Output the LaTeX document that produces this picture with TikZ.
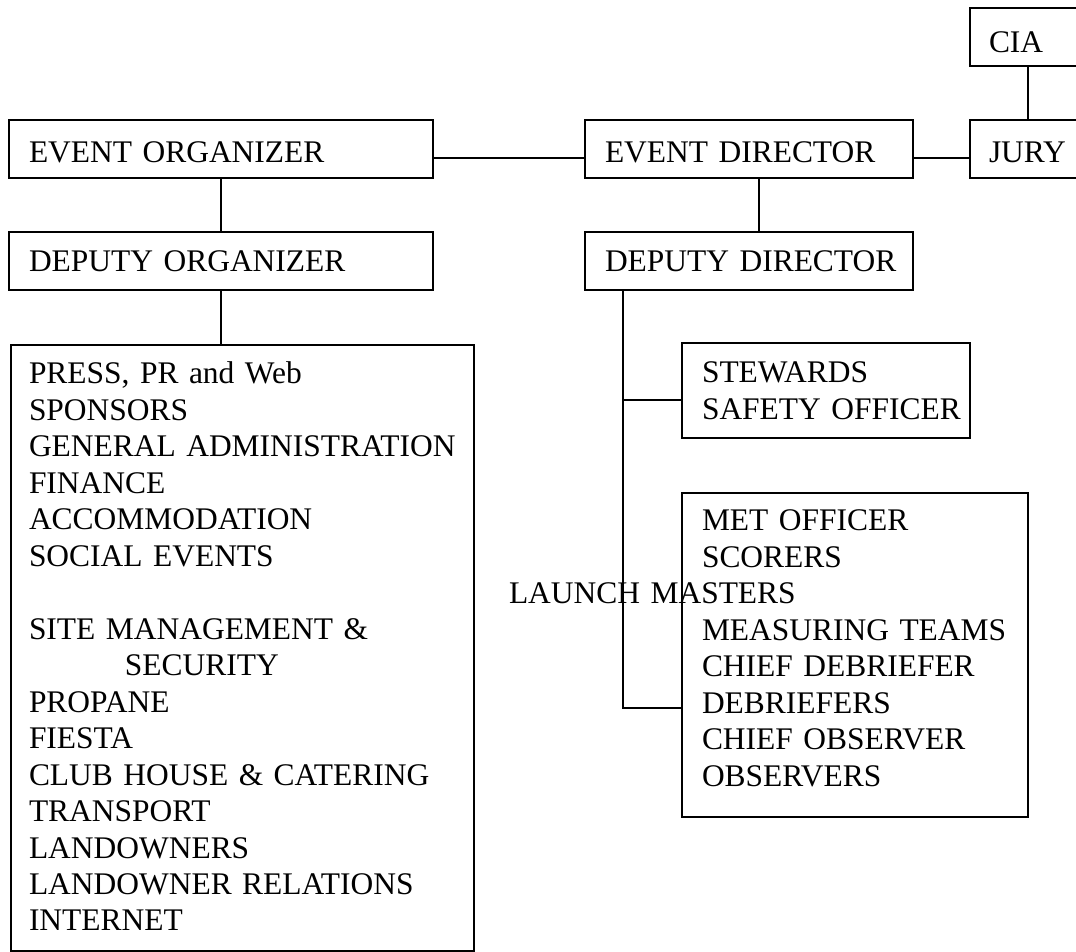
\documentclass[tikz,border=0pt]{standalone}
\usepackage{fontspec}
\setmainfont{Liberation Serif}
\newcommand{\lsk}[1]{\leftskip=#1\relax}
\begin{document}
\begin{tikzpicture}[x=0.75pt,y=-0.75pt,
  box/.style={draw, line width=1.5pt, rectangle, inner xsep=0pt, inner ysep=0pt,
    anchor=north west, align=left,
    font=\fontsize{23.6pt}{27.35pt}\selectfont},
  conn/.style={line width=1.5pt}]
\useasboundingbox (0,0) rectangle (1076,952);
\clip (0,0) rectangle (1076,952);
\fill[white] (0,0) rectangle (1076,952);

% top row
\node[box, text width=318pt, text height=32.25pt, text depth=11.25pt] (EO) at (8,119) {\lsk{15pt}EVENT ORGANIZER\par};
\node[box, text width=246pt, text height=32.25pt, text depth=11.25pt] (ED) at (584,119) {\lsk{15pt}EVENT DIRECTOR\par};
\node[box, text width=87pt, text height=32.25pt, text depth=11.25pt] (JURY) at (969,119) {\lsk{14.25pt}JURY\par};
\node[box, text width=87pt, text height=33.75pt, text depth=9.75pt] (CIA) at (969,7) {\lsk{14.25pt}CIA\par};

% second row
\node[box, text width=318pt, text height=30pt, text depth=13.5pt] (DO) at (8,231) {\lsk{15pt}DEPUTY ORGANIZER\par};
\node[box, text width=246pt, text height=30pt, text depth=13.5pt] (DD) at (584,231) {\lsk{15pt}DEPUTY DIRECTOR\par};

% organizer list
\node[box, text width=347.25pt, text height=29.25pt, text depth=425.25pt] (ORG) at (10,344) {\lsk{13.5pt}PRESS, PR and Web\\
SPONSORS\\
GENERAL ADMINISTRATION\\
FINANCE\\
ACCOMMODATION\\
SOCIAL EVENTS\\
\mbox{}\\
SITE MANAGEMENT \&\\
\hspace*{72pt}SECURITY\\
PROPANE\\
FIESTA\\
CLUB HOUSE \& CATERING\\
TRANSPORT\\
LANDOWNERS\\
LANDOWNER RELATIONS\\
INTERNET\par};

% director lists
\node[box, text width=216pt, text height=30pt, text depth=41.25pt] (STEW) at (681,342) {\lsk{15pt}STEWARDS\\
SAFETY OFFICER\par};
\node[box, text width=259.5pt, text height=28.5pt, text depth=214.5pt] (OFF) at (681,492) {\lsk{15pt}MET OFFICER\\
SCORERS\\
\hspace*{-144.75pt}LAUNCH MASTERS\\
MEASURING TEAMS\\
CHIEF DEBRIEFER\\
DEBRIEFERS\\
CHIEF OBSERVER\\
OBSERVERS\par};

% connectors
\draw[conn] ([yshift=-6.75pt]EO.east) -- ([yshift=-6.75pt]ED.west);
\draw[conn] ([yshift=-6.75pt]ED.east) -- ([yshift=-6.75pt]JURY.west);
\draw[conn] (CIA.south) -- (JURY.north);
\draw[conn] (EO.south) -- (DO.north);
\draw[conn] (DO.south) -- (DO.south |- ORG.north);
\draw[conn] ([xshift=7.5pt]ED.south) -- ([xshift=7.5pt]DD.north);
\path ([xshift=29.25pt]DD.south west) coordinate (bt);
\coordinate (k1) at (623,400);
\coordinate (k2) at (623,708);
\draw[conn] (bt) -- (k2) -- (k2 -| OFF.west);
\draw[conn] (k1) -- (k1 -| STEW.west);
\end{tikzpicture}
\end{document}
